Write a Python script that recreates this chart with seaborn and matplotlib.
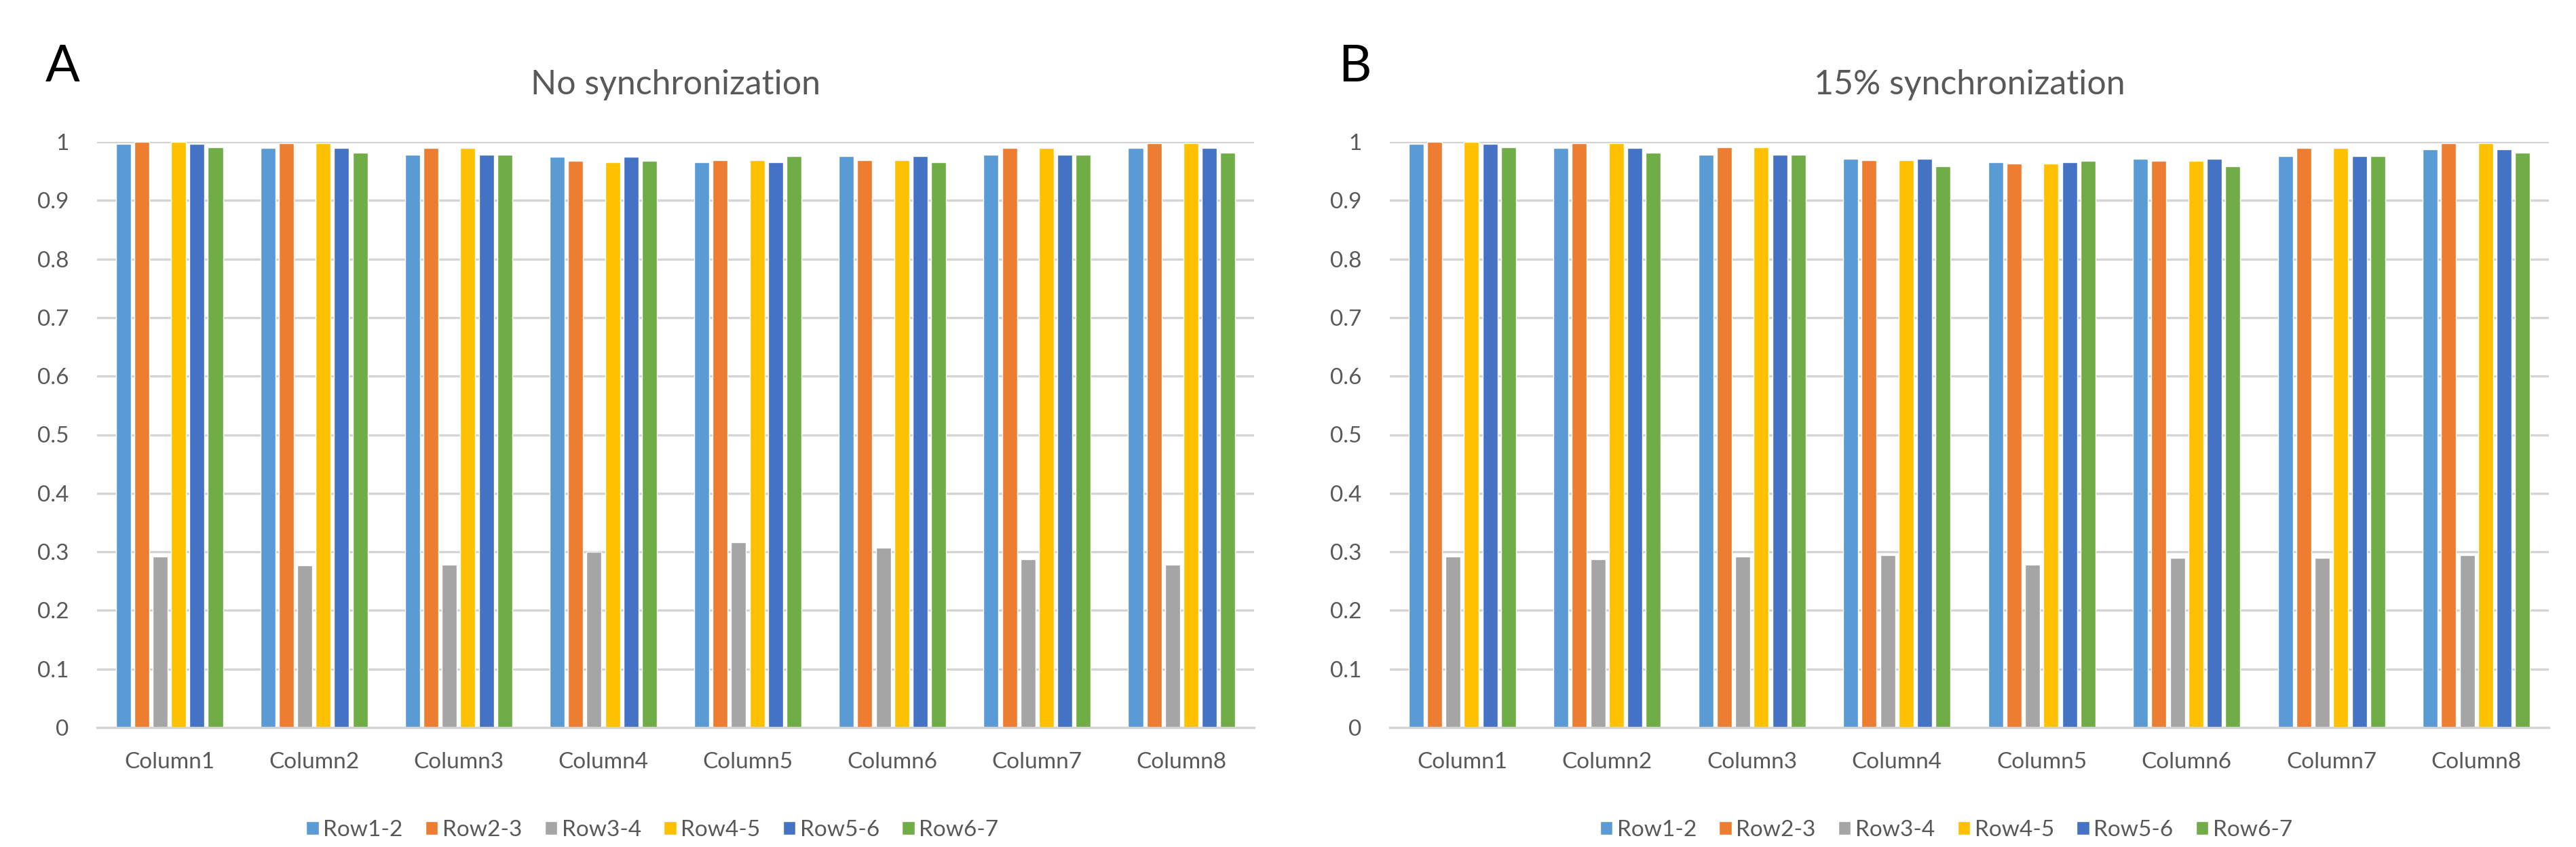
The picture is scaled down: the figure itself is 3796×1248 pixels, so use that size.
import matplotlib
matplotlib.use("Agg")
import matplotlib.pyplot as plt
import pandas as pd
import seaborn as sns

COLUMNS = [f"Column{i}" for i in range(1, 9)]
ROWS = ["Row1-2", "Row2-3", "Row3-4", "Row4-5", "Row5-6", "Row6-7"]
COLORS = ["#5B9BD5", "#ED7D31", "#A5A5A5", "#FFC000", "#4472C4", "#70AD47"]

# panel A: no synchronization (one list per row pair, one value per column)
no_sync = {
    "Row1-2": [0.996, 0.989, 0.978, 0.974, 0.965, 0.976, 0.978, 0.989],
    "Row2-3": [1.000, 0.998, 0.989, 0.967, 0.969, 0.969, 0.989, 0.998],
    "Row3-4": [0.292, 0.277, 0.278, 0.300, 0.316, 0.307, 0.287, 0.278],
    "Row4-5": [1.000, 0.998, 0.989, 0.965, 0.969, 0.969, 0.989, 0.998],
    "Row5-6": [0.996, 0.989, 0.978, 0.974, 0.965, 0.976, 0.978, 0.989],
    "Row6-7": [0.991, 0.982, 0.978, 0.967, 0.976, 0.965, 0.978, 0.982],
}

# panel B: 15% synchronization
sync_15 = {
    "Row1-2": [0.996, 0.989, 0.978, 0.971, 0.965, 0.971, 0.976, 0.987],
    "Row2-3": [1.000, 0.998, 0.991, 0.969, 0.963, 0.967, 0.989, 0.998],
    "Row3-4": [0.292, 0.287, 0.292, 0.294, 0.278, 0.290, 0.290, 0.294],
    "Row4-5": [1.000, 0.998, 0.991, 0.969, 0.963, 0.967, 0.989, 0.998],
    "Row5-6": [0.996, 0.989, 0.978, 0.971, 0.965, 0.971, 0.976, 0.987],
    "Row6-7": [0.991, 0.982, 0.978, 0.958, 0.967, 0.958, 0.976, 0.982],
}

Y_TICKS = [0, 0.1, 0.2, 0.3, 0.4, 0.5, 0.6, 0.7, 0.8, 0.9, 1]
Y_LABELS = ["0", "0.1", "0.2", "0.3", "0.4", "0.5", "0.6", "0.7", "0.8", "0.9", "1"]

TEXT = "#595959"
GRID = "#D4D4D4"


def to_long(values):
    recs = []
    for row in ROWS:
        for col, v in zip(COLUMNS, values[row]):
            recs.append({"column": col, "row": row, "value": v})
    return pd.DataFrame(recs)


def draw_panel(ax, values, title, letter):
    df = to_long(values)
    sns.barplot(data=df, x="column", y="value", hue="row", order=COLUMNS,
                hue_order=ROWS, palette=COLORS, saturation=1, width=0.765,
                gap=0.19, ax=ax, legend=True)
    ax.set_ylim(0, 1)
    ax.set_xlim(-0.5, len(COLUMNS) - 0.5)
    ax.set_yticks(Y_TICKS)
    ax.set_yticklabels(Y_LABELS)
    ax.set_xlabel("")
    ax.set_ylabel("")
    ax.yaxis.grid(True, color=GRID, linewidth=2.4)
    ax.set_axisbelow(True)
    for s in ["top", "right", "left"]:
        ax.spines[s].set_visible(False)
    ax.spines["bottom"].set_color(GRID)
    ax.spines["bottom"].set_linewidth(2.4)
    ax.tick_params(axis="both", length=0, labelsize=24, labelcolor=TEXT)
    ax.tick_params(axis="y", pad=30)
    ax.tick_params(axis="x", pad=26)

    sns.move_legend(ax, "center", bbox_to_anchor=(0.48, -0.175), ncol=6,
                    frameon=False, title=None, fontsize=24,
                    handlelength=0.55, handleheight=0.55,
                    handletextpad=0.2, columnspacing=1.0)
    for t in ax.get_legend().get_texts():
        t.set_color(TEXT)

    pos = ax.get_position()
    fig = ax.figure
    fig.text(pos.x0 + pos.width / 2, 1 - 125 / 1248, title, ha="center",
             va="center", fontsize=36, color=TEXT)
    fig.text(pos.x0 - 76 / 3796, 1 - 99 / 1248, letter, ha="left",
             va="center", fontsize=54, color="black")


sns.set_theme(style="white")
plt.rcParams["font.family"] = ["Lato", "DejaVu Sans"]

fig = plt.figure(figsize=(37.96, 12.48), dpi=100)
ax_a = fig.add_axes([143 / 3796, 176 / 1248, 1705 / 3796, 863 / 1248])
ax_b = fig.add_axes([2048 / 3796, 176 / 1248, 1708 / 3796, 863 / 1248])

draw_panel(ax_a, no_sync, "No synchronization", "A")
draw_panel(ax_b, sync_15, "15% synchronization", "B")

fig.savefig("out.png", dpi=100, facecolor="white")
